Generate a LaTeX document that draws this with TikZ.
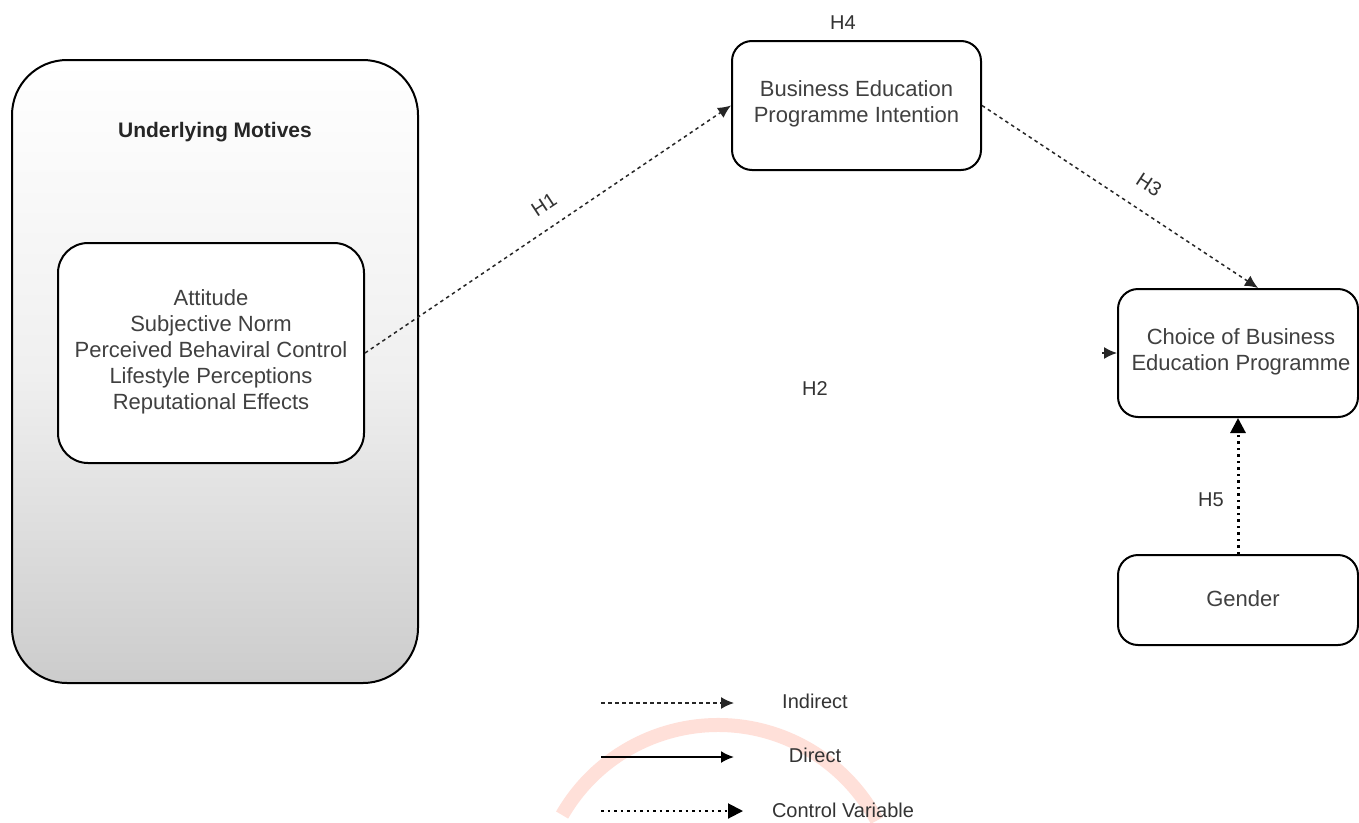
\documentclass[tikz,border=0pt]{standalone}
\usepackage{fontspec}
\setmainfont{Liberation Sans}
\usetikzlibrary{arrows.meta}
\begin{document}
\begin{tikzpicture}[x=1pt,y=-1pt,
  txt/.style={font=\fontsize{22}{26}\selectfont, text=black!75, align=center},
  lbl/.style={font=\fontsize{20}{24}\selectfont, text=black!80, inner sep=1pt},
  rbox/.style={draw=black, line width=2pt, fill=white, rounded corners=#1, inner sep=0pt},
  ind/.style={draw=black!85, line width=1.5pt, dash pattern=on 3.5pt off 3.5pt, -{Latex[length=13pt,width=12pt]}},
  dir/.style={draw=black, line width=2pt, -{Latex[length=13pt,width=12pt]}},
  ctl/.style={draw=black, line width=3pt, dash pattern=on 2.5pt off 4pt, -{Triangle[length=15pt,width=15pt]}}
]
\useasboundingbox (0,0) rectangle (1359,822);
\fill[white] (0,0) rectangle (1359,822);

% watermark arc
\begin{scope}[yscale=-1]
\draw[red!60!orange!15, line width=14pt] (718,-905) ++(150:180) arc[start angle=150, end angle=28, radius=180];
\end{scope}

% outer box
\node[draw=black, line width=2pt, rounded corners=55pt, minimum width=406pt, minimum height=623pt,
      top color=white, bottom color=black!20, middle color=black!6, inner sep=0pt] (um) at (215,371.5) {};
\node[font=\bfseries\fontsize{21}{24}\selectfont, text=black!85] (umt) at (215,132) {Underlying Motives};

% inner box
\node[rbox=30pt, minimum width=306pt, minimum height=220pt] (inner) at (211,353) {};
\node[txt] (innert) at (211,352) {Attitude\\Subjective Norm\\Perceived Behaviral Control\\Lifestyle Perceptions\\Reputational Effects};

% business education intention
\node[rbox=20pt, minimum width=249pt, minimum height=129pt] (be) at (856.5,105.5) {};
\node[txt] (bet) at (856.5,104) {Business Education\\Programme Intention};
\node[lbl] (h4) at (843,23) {H4};

% choice
\node[rbox=20pt, minimum width=240pt, minimum height=128pt] (choice) at (1238,353) {};
\node[txt] (choicet) at (1241,352) {Choice of Business\\Education Programme};

% gender
\node[rbox=20pt, minimum width=240pt, minimum height=90pt] (gender) at (1238,600) {};
\node[txt] (gendert) at (1243,599) {Gender};

% connectors
\draw[ind] (inner.east) -- (be.west);
\node[lbl, rotate=33.5] (h1) at (544,205) {H1};
\draw[ind] (be.east) -- ([xshift=20pt]choice.north);
\node[lbl, rotate=-33.3] (h3) at (1149,185) {H3};
\coordinate (h2s) at ([xshift=-15pt]choice.west);
\draw[ind] (h2s) -- (choice.west);
\node[lbl] (h2) at (815,389) {H2};
\draw[ctl] (gender.north) -- (choice.south);
\node[lbl] (h5) at (1211,500) {H5};

% legend
\coordinate (l1a) at (601,703); \coordinate (l1b) at (734,703);
\coordinate (l2a) at (601,757); \coordinate (l2b) at (734,757);
\coordinate (l3a) at (601,811); \coordinate (l3b) at (743,811);
\draw[ind] (l1a) -- (l1b);
\draw[dir] (l2a) -- (l2b);
\draw[ctl, line width=2pt] (l3a) -- (l3b);
\node[lbl] (lt1) at (815,701) {Indirect};
\node[lbl] (lt2) at (815,755) {Direct};
\node[lbl] (lt3) at (843,810) {Control Variable};
\end{tikzpicture}
\end{document}
